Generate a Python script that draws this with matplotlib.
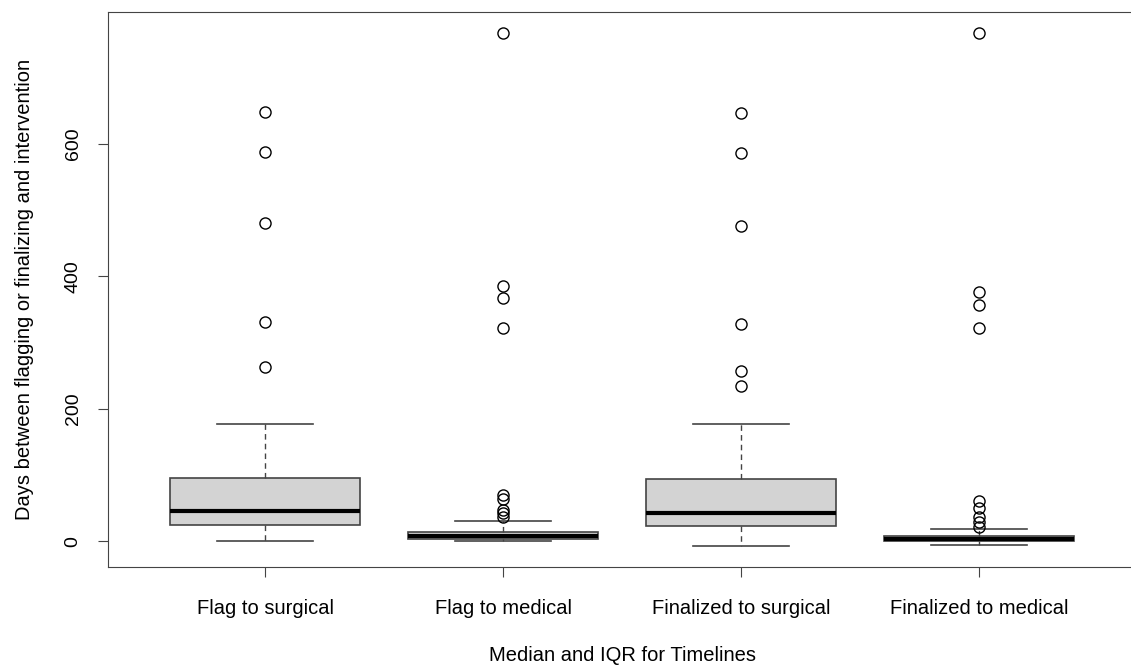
import matplotlib
matplotlib.use('agg')
import matplotlib.pyplot as plt

# values
labels = ['Flag to surgical', 'Flag to medical', 'Finalized to surgical', 'Finalized to medical']
q1 = [24, 3, 23, 0]
med = [45, 8, 42, 4]
q3 = [96, 14, 94, 8]
whislo = [1, 0, -8, -5]
whishi = [177, 30, 177, 18]
fliers = [
    [263, 331, 480, 588, 648],
    [36, 42, 47, 63, 70, 322, 367, 385, 768],
    [234, 257, 328, 476, 586, 647],
    [22, 29, 36, 50, 61, 322, 357, 376, 768],
]

plt.rcParams['font.family'] = ['Liberation Sans', 'DejaVu Sans']

stats = []
for i in range(len(labels)):
    stats.append(dict(label=labels[i], q1=q1[i], med=med[i], q3=q3[i],
                      whislo=whislo[i], whishi=whishi[i], fliers=fliers[i]))

fig = plt.figure(figsize=(11.31, 6.66), dpi=100)
# right edge of the frame falls just outside the picture, as in the reference
ax = fig.add_axes([0.0955, 0.1486, 0.909, 0.8334])

ax.bxp(stats, positions=[1, 2, 3, 4], widths=0.8, patch_artist=True,
       boxprops=dict(facecolor='#d3d3d3', edgecolor='#444444', linewidth=1.2),
       medianprops=dict(color='black', linewidth=3, solid_capstyle='butt'),
       whiskerprops=dict(color='#444444', linestyle=(0, (4, 3)), linewidth=1.0),
       capprops=dict(color='#444444', linewidth=1.2),
       capwidths=0.4,
       flierprops=dict(marker='o', markerfacecolor='none', markeredgecolor='black',
                       markersize=8, markeredgewidth=1.0))

ax.set_xlim(0.34, 4.66)
ax.set_ylim(-39, 799)
ax.set_yticks([0, 200, 400, 600])
ax.set_yticklabels(['0', '200', '400', '600'], rotation=90, va='center', fontsize=14)
ax.set_xticks([1, 2, 3, 4])
ax.set_xticklabels(labels, fontsize=14.5)
ax.tick_params(axis='both', length=7, color='#444444')
ax.tick_params(axis='x', pad=16)
ax.tick_params(axis='y', pad=12)
for sp in ax.spines.values():
    sp.set_color('#444444')
ax.set_ylabel('Days between flagging or finalizing and intervention', fontsize=14.5, labelpad=22)
ax.set_xlabel('Median and IQR for Timelines', fontsize=14.5, labelpad=20)

plt.savefig('out.png', dpi=100)
